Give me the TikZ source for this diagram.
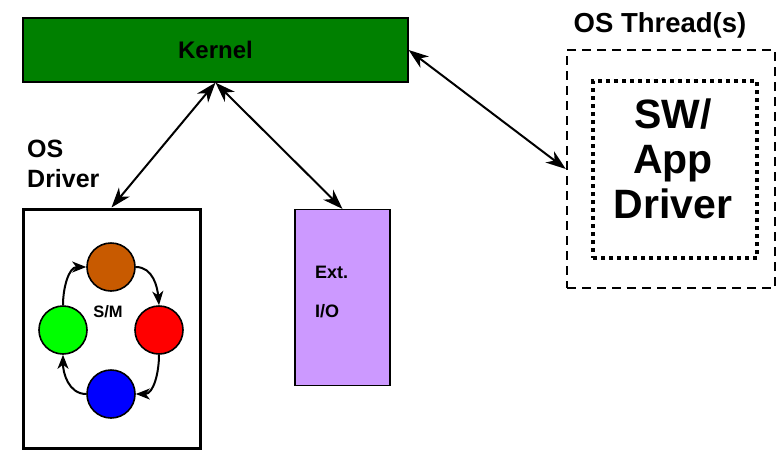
\documentclass[tikz,border=0pt]{standalone}
\usepackage{fontspec}
\setmainfont{Liberation Sans}
\usetikzlibrary{arrows.meta}
\definecolor{kgreen}{RGB}{0,128,0}
\definecolor{lav}{RGB}{204,153,255}
\definecolor{brn}{RGB}{200,90,0}
\begin{document}
\begin{tikzpicture}[x=1pt,y=-1pt,
  box/.style={draw=black, rectangle, inner sep=0pt},
  conn/.style={line width=2pt, >={Stealth[length=20pt,width=14pt,inset=6pt]}, <->},
  state/.style={circle, draw=black, line width=1.6pt, minimum size=48pt, inner sep=0pt},
  cyc/.style={line width=2pt, >={Stealth[length=14pt,width=11pt,inset=4pt]}, ->},
  lbl/.style={inner sep=0pt, font=\bfseries}
]
\useasboundingbox (0,0) rectangle (778,450);
% boxes
\node[box, fill=kgreen, line width=1.2pt, minimum width=385pt, minimum height=64pt] (kernel) at (215.5,50) {};
\node[lbl, font=\bfseries\fontsize{24}{26}\selectfont] (ktext) at (215.5,50) {Kernel};
\node[box, line width=3pt, minimum width=177pt, minimum height=239pt] (drv) at (111.5,328.5) {};
\node[box, fill=lav, line width=1.2pt, minimum width=95pt, minimum height=176pt] (ext) at (342.5,297.5) {};
\node[box, dash pattern=on 9pt off 6pt, line width=2.4pt, minimum width=208pt, minimum height=238pt] (thr) at (671,169) {};
\node[box, dash pattern=on 4pt off 4pt, line width=4pt, minimum width=164pt, minimum height=177pt] (sw) at (675,169.5) {};
% labels
\node[lbl, anchor=north west, align=left, font=\bfseries\fontsize{25}{30}\selectfont] (oslbl) at (27,140) {OS\\Driver};
\node[lbl, anchor=north west, align=left, font=\bfseries\fontsize{18}{39}\selectfont] (extlbl) at (315,265.5) {Ext.\\I/O};
\node[lbl, anchor=base, font=\bfseries\fontsize{27.5}{30}\selectfont] (thrlbl) at (660,32) {OS Thread(s)};
\node[lbl, align=center, font=\bfseries\fontsize{41}{45}\selectfont] (swlbl) at (673,159) {SW/\\App\\Driver};
% state machine
\node[state, fill=brn] (s1) at (111,267) {};
\node[state, fill=red] (s2) at (159,330) {};
\node[state, fill=blue] (s3) at (111,394) {};
\node[state, fill=green] (s4) at (63,330) {};
\node[lbl, font=\bfseries\fontsize{16.5}{20}\selectfont] (sm) at (108,312) {S/M};
\draw[cyc] (s1.east) to[out=0,in=95] (s2.north);
\draw[cyc] (s2.south) to[out=-90,in=0] (s3.east);
\draw[cyc] (s3.west) to[out=180,in=-90] (s4.south);
\draw[cyc] (s4.north) to[out=90,in=180] (s1.west);
% connectors
\draw[conn] (kernel.south) -- (drv.north);
\draw[conn] (kernel.south) -- (ext.north);
\draw[conn] (kernel.east) -- (thr.west);
\end{tikzpicture}
\end{document}
